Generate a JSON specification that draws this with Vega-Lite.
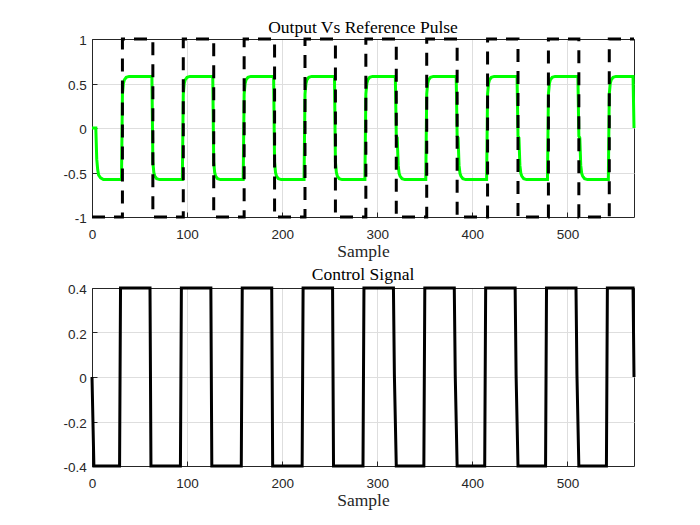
{
  "$schema": "https://vega.github.io/schema/vega-lite/v6.json",
  "autosize": {"type": "none"},
  "padding": {"left": 92, "top": 39, "right": 66, "bottom": 486},
  "background": "white",
  "bounds": "flush",
  "spacing": 71,
  "config": {
    "view": {"stroke": "#262626", "strokeWidth": 1},
    "axis": {
      "labelFont": "Liberation Sans",
      "labelFontSize": 13.5,
      "labelColor": "#262626",
      "domainColor": "#262626",
      "domainWidth": 1,
      "tickColor": "#262626",
      "tickSize": -5,
      "gridWidth": 1,
      "titleFont": "Liberation Serif",
      "titleFontSize": 17.5,
      "titleFontWeight": "normal",
      "titleColor": "#262626"
    },
    "axisX": {"labelPadding": 15, "labelBaseline": "top", "labelFlush": false, "titleBaseline": "alphabetic", "titleY": 39.5},
    "axisY": {"labelPadding": 10.7, "labelOffset": 1.5}
  },
  "datasets": {
    "ref": [
      {"s": 0, "v": -1}, {"s": 32, "v": 1}, {"s": 64, "v": -1}, {"s": 96, "v": 1},
      {"s": 128, "v": -1}, {"s": 160, "v": 1}, {"s": 192, "v": -1}, {"s": 224, "v": 1},
      {"s": 256, "v": -1}, {"s": 288, "v": 1}, {"s": 320, "v": -1}, {"s": 352, "v": 1},
      {"s": 384, "v": -1}, {"s": 416, "v": 1}, {"s": 448, "v": -1}, {"s": 480, "v": 1},
      {"s": 512, "v": -1}, {"s": 544, "v": 1}, {"s": 570, "v": 1}
    ],
    "out": [
      {"s": 0, "v": 0}, {"s": 4, "v": 0}, {"s": 5, "v": -0.35}, {"s": 6, "v": -0.47}, {"s": 7, "v": -0.53}, {"s": 9, "v": -0.56}, {"s": 12, "v": -0.58},
      {"s": 31, "v": -0.58}, {"s": 32, "v": 0.38}, {"s": 33, "v": 0.5}, {"s": 34, "v": 0.54}, {"s": 36, "v": 0.57}, {"s": 39, "v": 0.58},
      {"s": 63, "v": 0.58}, {"s": 64, "v": -0.38}, {"s": 65, "v": -0.5}, {"s": 66, "v": -0.54}, {"s": 68, "v": -0.57}, {"s": 71, "v": -0.58},
      {"s": 95, "v": -0.58}, {"s": 96, "v": 0.38}, {"s": 97, "v": 0.5}, {"s": 98, "v": 0.54}, {"s": 100, "v": 0.57}, {"s": 103, "v": 0.58},
      {"s": 127, "v": 0.58}, {"s": 128, "v": -0.38}, {"s": 129, "v": -0.5}, {"s": 130, "v": -0.54}, {"s": 132, "v": -0.57}, {"s": 135, "v": -0.58},
      {"s": 159, "v": -0.58}, {"s": 160, "v": 0.38}, {"s": 161, "v": 0.5}, {"s": 162, "v": 0.54}, {"s": 164, "v": 0.57}, {"s": 167, "v": 0.58},
      {"s": 191, "v": 0.58}, {"s": 192, "v": -0.38}, {"s": 193, "v": -0.5}, {"s": 194, "v": -0.54}, {"s": 196, "v": -0.57}, {"s": 199, "v": -0.58},
      {"s": 223, "v": -0.58}, {"s": 224, "v": 0.38}, {"s": 225, "v": 0.5}, {"s": 226, "v": 0.54}, {"s": 228, "v": 0.57}, {"s": 231, "v": 0.58},
      {"s": 255, "v": 0.58}, {"s": 256, "v": -0.38}, {"s": 257, "v": -0.5}, {"s": 258, "v": -0.54}, {"s": 260, "v": -0.57}, {"s": 263, "v": -0.58},
      {"s": 287, "v": -0.58}, {"s": 288, "v": 0.38}, {"s": 289, "v": 0.5}, {"s": 290, "v": 0.54}, {"s": 292, "v": 0.57}, {"s": 295, "v": 0.58},
      {"s": 319, "v": 0.58}, {"s": 320, "v": -0.09}, {"s": 321, "v": -0.11}, {"s": 322, "v": -0.42}, {"s": 323, "v": -0.51}, {"s": 324, "v": -0.54}, {"s": 326, "v": -0.57}, {"s": 329, "v": -0.58},
      {"s": 351, "v": -0.58}, {"s": 352, "v": 0.38}, {"s": 353, "v": 0.5}, {"s": 354, "v": 0.54}, {"s": 356, "v": 0.57}, {"s": 359, "v": 0.58},
      {"s": 383, "v": 0.58}, {"s": 384, "v": -0.09}, {"s": 385, "v": -0.11}, {"s": 386, "v": -0.42}, {"s": 387, "v": -0.51}, {"s": 388, "v": -0.54}, {"s": 390, "v": -0.57}, {"s": 393, "v": -0.58},
      {"s": 415, "v": -0.58}, {"s": 416, "v": 0.38}, {"s": 417, "v": 0.5}, {"s": 418, "v": 0.54}, {"s": 420, "v": 0.57}, {"s": 423, "v": 0.58},
      {"s": 447, "v": 0.58}, {"s": 448, "v": -0.09}, {"s": 449, "v": -0.11}, {"s": 450, "v": -0.42}, {"s": 451, "v": -0.51}, {"s": 452, "v": -0.54}, {"s": 454, "v": -0.57}, {"s": 457, "v": -0.58},
      {"s": 479, "v": -0.58}, {"s": 480, "v": 0.38}, {"s": 481, "v": 0.5}, {"s": 482, "v": 0.54}, {"s": 484, "v": 0.57}, {"s": 487, "v": 0.58},
      {"s": 511, "v": 0.58}, {"s": 512, "v": -0.09}, {"s": 513, "v": -0.11}, {"s": 514, "v": -0.42}, {"s": 515, "v": -0.51}, {"s": 516, "v": -0.54}, {"s": 518, "v": -0.57}, {"s": 521, "v": -0.58},
      {"s": 543, "v": -0.58}, {"s": 544, "v": 0.38}, {"s": 545, "v": 0.5}, {"s": 546, "v": 0.54}, {"s": 548, "v": 0.57}, {"s": 551, "v": 0.58},
      {"s": 569, "v": 0.58}, {"s": 570, "v": 0}
    ],
    "ctrl": [
      {"s": 0, "v": 0}, {"s": 2, "v": -0.4},
      {"s": 29, "v": -0.4}, {"s": 30, "v": 0.4},
      {"s": 61, "v": 0.4}, {"s": 62, "v": -0.4},
      {"s": 93, "v": -0.4}, {"s": 94, "v": 0.4},
      {"s": 125, "v": 0.4}, {"s": 126, "v": -0.4},
      {"s": 157, "v": -0.4}, {"s": 158, "v": 0.4},
      {"s": 189, "v": 0.4}, {"s": 190, "v": -0.4},
      {"s": 221, "v": -0.4}, {"s": 222, "v": 0.4},
      {"s": 253, "v": 0.4}, {"s": 254, "v": -0.4},
      {"s": 285, "v": -0.4}, {"s": 286, "v": 0.4},
      {"s": 317, "v": 0.4}, {"s": 318, "v": 0.01}, {"s": 320, "v": -0.4},
      {"s": 349, "v": -0.4}, {"s": 350, "v": 0.4},
      {"s": 381, "v": 0.4}, {"s": 382, "v": 0.01}, {"s": 384, "v": -0.4},
      {"s": 413, "v": -0.4}, {"s": 414, "v": 0.4},
      {"s": 445, "v": 0.4}, {"s": 446, "v": 0.01}, {"s": 448, "v": -0.4},
      {"s": 477, "v": -0.4}, {"s": 478, "v": 0.4},
      {"s": 509, "v": 0.4}, {"s": 510, "v": 0.01}, {"s": 512, "v": -0.4},
      {"s": 541, "v": -0.4}, {"s": 542, "v": 0.4},
      {"s": 569, "v": 0.4}, {"s": 570, "v": 0}
    ]
  },
  "vconcat": [
    {
      "width": 542,
      "height": 178,
      "title": {"text": "Output Vs Reference Pulse", "font": "Liberation Serif", "fontSize": 17.5, "fontWeight": "normal", "color": "black", "baseline": "alphabetic", "frame": "group", "anchor": "middle", "offset": 7.5, "dy": 24.5},
      "encoding": {
        "x": {"field": "s", "type": "quantitative", "scale": {"domain": [0, 570], "nice": false, "zero": false},
              "axis": {"title": "Sample", "values": [0, 100, 200, 300, 400, 500], "grid": true, "gridColor": "#dedede"}},
        "y": {"field": "v", "type": "quantitative", "scale": {"domain": [-1, 1], "nice": false},
              "axis": {"title": null, "values": [-1, -0.5, 0, 0.5, 1], "grid": true,
                       "gridColor": {"condition": {"test": "datum.value === 1", "value": "#262626"}, "value": "#dedede"},
                       "labelExpr": "datum.value < 0 ? '-' + format(-datum.value, '~g') : format(datum.value, '~g')"}}
      },
      "layer": [
        {"data": {"name": "out"}, "mark": {"type": "line", "color": "#00ff00", "strokeWidth": 3, "clip": false}},
        {"data": {"name": "ref"}, "mark": {"type": "line", "color": "black", "strokeWidth": 3, "strokeDash": [13, 9], "interpolate": "step-after", "clip": false}}
      ]
    },
    {
      "width": 542,
      "height": 178,
      "title": {"text": "Control Signal", "font": "Liberation Serif", "fontSize": 17.5, "fontWeight": "normal", "color": "black", "baseline": "alphabetic", "frame": "group", "anchor": "middle", "offset": 9, "dy": 24.5},
      "data": {"name": "ctrl"},
      "mark": {"type": "line", "color": "black", "strokeWidth": 3, "clip": false},
      "encoding": {
        "x": {"field": "s", "type": "quantitative", "scale": {"domain": [0, 570], "nice": false, "zero": false},
              "axis": {"title": "Sample", "values": [0, 100, 200, 300, 400, 500], "grid": true, "gridColor": "#dedede"}},
        "y": {"field": "v", "type": "quantitative", "scale": {"domain": [-0.4, 0.4], "nice": false},
              "axis": {"title": null, "values": [-0.4, -0.2, 0, 0.2, 0.4], "grid": true,
                       "gridColor": {"condition": {"test": "datum.value === 0.4", "value": "#262626"}, "value": "#dedede"},
                       "labelExpr": "datum.value < 0 ? '-' + format(-datum.value, '~g') : format(datum.value, '~g')"}}
      }
    }
  ]
}
